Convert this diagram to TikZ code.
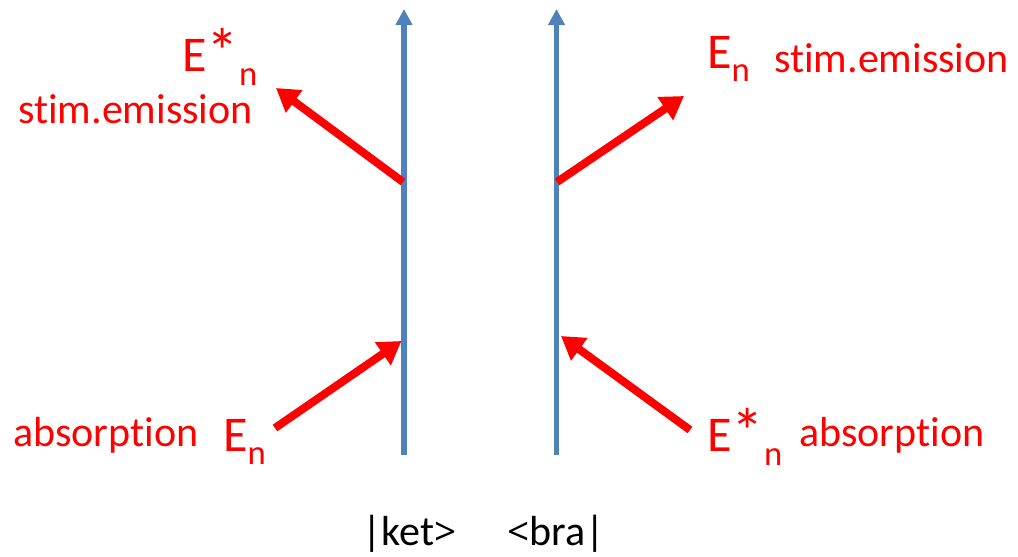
\documentclass[tikz,border=0pt]{standalone}
\usepackage{fontspec}
\setmainfont{Carlito}[Ligatures={NoCommon,NoRare,NoContextual}]
\newfontfamily\anglefont{Open Sans}
\usetikzlibrary{arrows.meta}
\definecolor{ketblue}{RGB}{79,129,189}
\definecolor{photonred}{RGB}{255,0,0}
\newcommand{\fE}{\fontsize{37.5pt}{40pt}\selectfont}
\newcommand{\fN}{\fontsize{26pt}{28pt}\selectfont}
\newcommand{\fT}{\fontsize{31.5pt}{34pt}\selectfont}
\newcommand{\Star}{\raisebox{-2pt}{\scalebox{1.3}{*}}}
\newcommand{\En}{{\fE E}\raisebox{-10pt}{\fN n}}
\newcommand{\Esn}{{\fE E\Star}\raisebox{-10pt}{\fN n}}
\newcommand{\LT}{{\anglefont\fontsize{29pt}{30pt}\selectfont <}}
\newcommand{\GT}{{\anglefont\fontsize{29pt}{30pt}\selectfont >}}
\begin{document}
\begin{tikzpicture}[x=0.75pt,y=-0.75pt,
  timeline/.style={draw=ketblue,line width=4pt,-{Triangle[length=12pt,width=12pt]}},
  photon/.style={draw=photonred,line width=6pt,-{Triangle[length=17pt,width=20pt]}},
  lbl/.style={text=photonred,inner sep=0pt,anchor=base west,font=\fT},
  elbl/.style={text=photonred,inner sep=0pt,anchor=base west},
  brlbl/.style={text=black,inner sep=0pt,anchor=base west,font=\fT}]
\useasboundingbox (0,0) rectangle (1018,557);
% time lines
\coordinate (ketbot) at (404,455);
\coordinate (kettop) at (404,9);
\coordinate (brabot) at (556.5,455);
\coordinate (bratop) at (556.5,9);
\draw[timeline] (ketbot) -- (kettop);
\draw[timeline] (brabot) -- (bratop);
% photon arrows
\coordinate (ketA) at (403,182);
\coordinate (ketAend) at (276,88);
\coordinate (ketBstart) at (275,428);
\coordinate (ketB) at (401.5,341);
\coordinate (braA) at (557,182);
\coordinate (braAend) at (684,96);
\coordinate (braBstart) at (690,430);
\coordinate (braB) at (561,336);
\draw[photon] (ketA) -- (ketAend);
\draw[photon] (ketBstart) -- (ketB);
\draw[photon] (braA) -- (braAend);
\draw[photon] (braBstart) -- (braB);
% labels
\node[elbl] (ulE) at (182,71.7) {\Esn};
\node[lbl] (ulT) at (18,123) {stim.emission};
\node[lbl] (llT) at (13,446.7) {absorption};
\node[elbl] (llE) at (223,451) {\En};
\node[elbl] (urE) at (707,68.3) {\En};
\node[lbl] (urT) at (774,72.3) {stim.emission};
\node[elbl] (lrE) at (707,451.7) {\Esn};
\node[lbl] (lrT) at (799,446.7) {absorption};
\node[brlbl] (ket) at (362,545) {|ket\GT};
\node[brlbl] (bra) at (507,545) {\LT bra|};
\end{tikzpicture}
\end{document}
